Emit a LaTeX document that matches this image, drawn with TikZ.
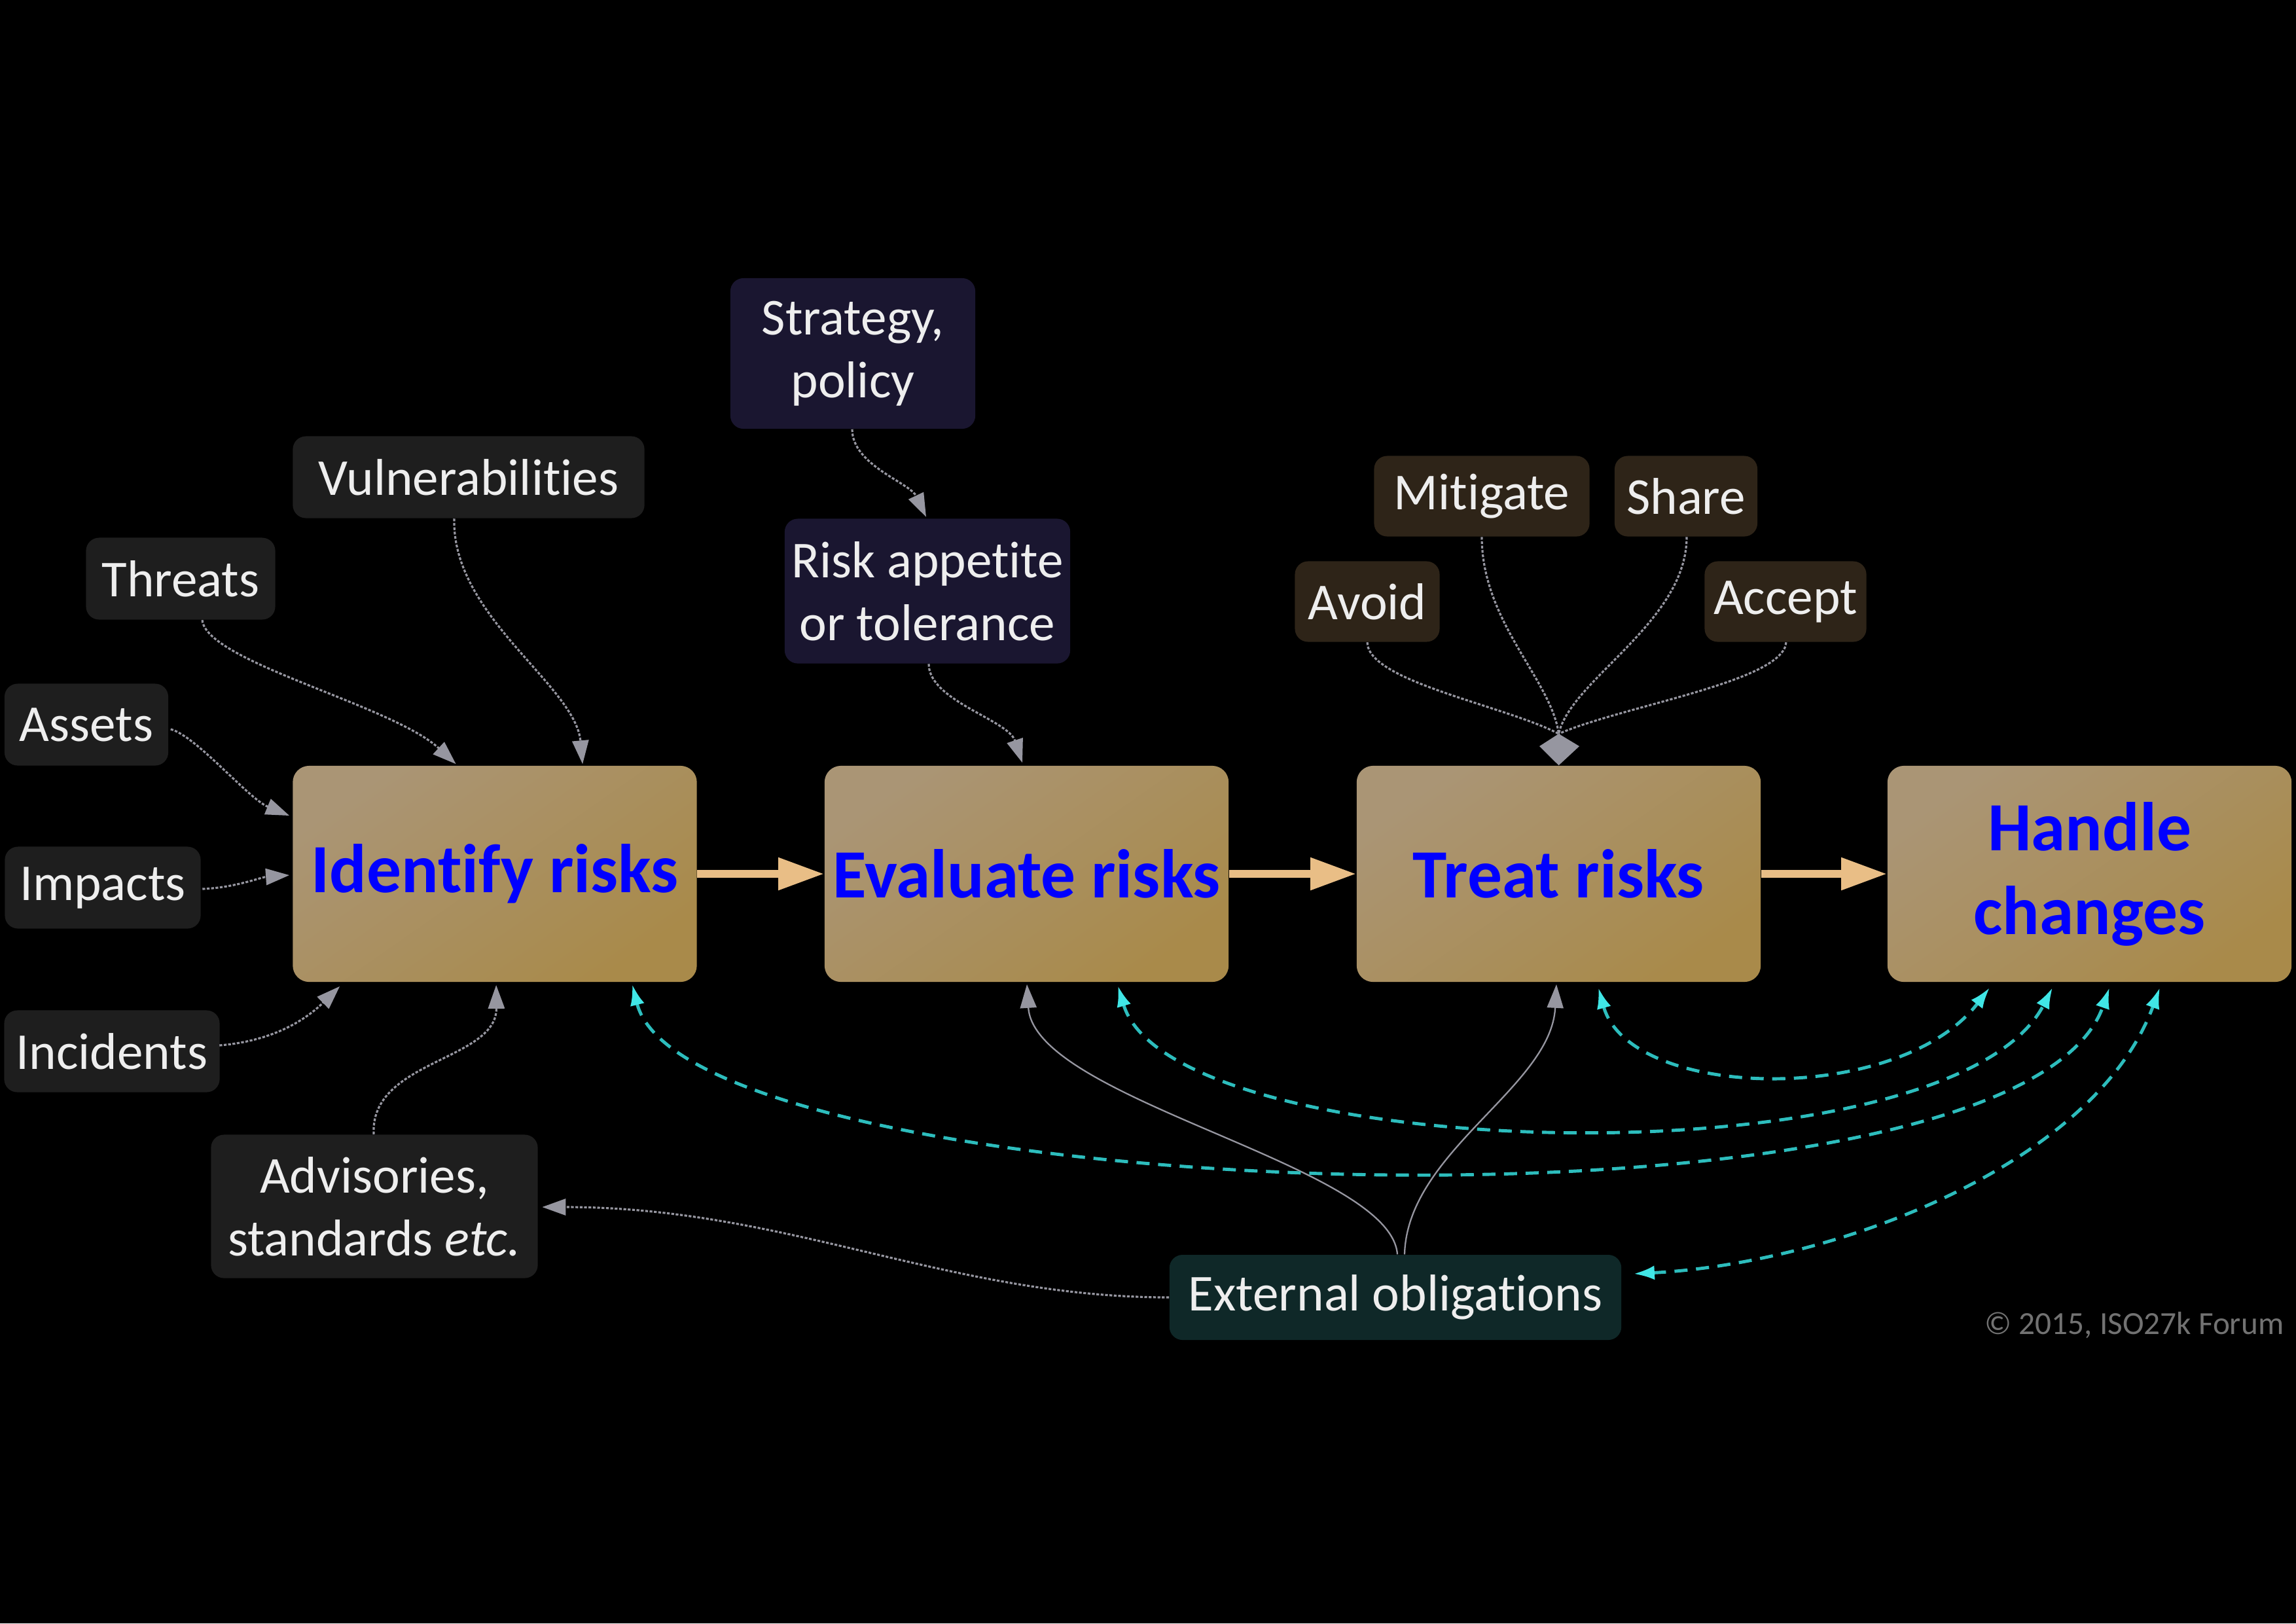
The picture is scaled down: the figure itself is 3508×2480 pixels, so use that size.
\documentclass[tikz,border=0pt]{standalone}
\usepackage{fontspec}
\setmainfont{Carlito}[Ligatures={NoCommon,NoContextual}]
\usetikzlibrary{arrows.meta,calc}

\definecolor{boxtop}{HTML}{AA9575}
\definecolor{boxbot}{HTML}{A98A4A}
\definecolor{flowcol}{HTML}{E9BE86}
\definecolor{cyanline}{HTML}{2DBDBD}
\definecolor{cyanhead}{HTML}{40E6E6}
\definecolor{linkgray}{HTML}{9696A0}
\definecolor{inputfill}{HTML}{1E1E1E}
\definecolor{policyfill}{HTML}{1A1630}
\definecolor{optionfill}{HTML}{2E2418}
\definecolor{extfill}{HTML}{0F2828}
\definecolor{cardtext}{HTML}{EEEEEE}
\definecolor{notegray}{HTML}{727272}

\newcommand\stagefont{\fontsize{30pt}{36.4pt}\selectfont\bfseries}
\newcommand\cardfont{\fontsize{22.5pt}{27.3pt}\selectfont}

\tikzset{
  stagebox/.style={rectangle, rounded corners=0.25cm, minimum width=6.17cm,
    minimum height=3.3cm, inner sep=0pt, top color=boxtop, bottom color=boxbot,
    shading angle=35, text=blue, font=\stagefont, align=center},
  cardbox/.style={rectangle, rounded corners=0.2cm, inner sep=0pt,
    text=cardtext, font=\cardfont, align=center},
  inputcard/.style={cardbox, fill=inputfill},
  policycard/.style={cardbox, fill=policyfill},
  optioncard/.style={cardbox, fill=optionfill},
  extcard/.style={cardbox, fill=extfill},
  link/.style={draw=linkgray, line width=0.9pt, dash pattern=on 1.2pt off 0.7pt,
    -{Triangle[length=0.36cm, width=0.25cm, color=linkgray]}},
  solidlink/.style={draw=linkgray, line width=0.65pt,
    -{Triangle[length=0.36cm, width=0.25cm, color=linkgray]}},
  plainlink/.style={draw=linkgray, line width=0.9pt, dash pattern=on 1.2pt off 0.7pt},
  flow/.style={draw=flowcol, line width=3.4pt,
    -{Triangle[length=0.7cm, width=0.47cm, color=flowcol]}},
  feedback/.style={draw=cyanline, line width=1.4pt, dash pattern=on 5.7pt off 3.7pt,
    {Latex[length=0.32cm, width=0.22cm, color=cyanhead]}-{Latex[length=0.32cm, width=0.22cm, color=cyanhead]}},
}

\begin{document}
\begin{tikzpicture}[x=0.01cm, y=-0.01cm]
  % canvas
  \fill[black] (0,0) rectangle (3508,2480);
  \useasboundingbox (0,0) rectangle (3508,2480);

  % process stages
  \node[stagebox] (identify) at (756,1335) {Identify risks};
  \node[stagebox] (evaluate) at (1568.5,1335) {Evaluate risks};
  \node[stagebox] (treat)    at (2381.5,1335) {Treat risks};
  \node[stagebox] (handle)   at (3192.5,1335) {Handle\\changes};

  % inputs to identification
  \node[inputcard, minimum width=5.37cm, minimum height=1.25cm] (vuln)      at (716,729)  {Vulnerabilities};
  \node[inputcard, minimum width=2.89cm, minimum height=1.25cm] (threats)   at (276,884)  {Threats};
  \node[inputcard, minimum width=2.50cm, minimum height=1.25cm] (assets)    at (132,1107) {Assets};
  \node[inputcard, minimum width=2.99cm, minimum height=1.25cm] (impacts)   at (157,1356) {Impacts};
  \node[inputcard, minimum width=3.29cm, minimum height=1.25cm] (incidents) at (171,1606) {Incidents};
  \node[inputcard, minimum width=4.99cm, minimum height=2.19cm] (advisories) at (572,1843) {Advisories,\\standards \textit{etc.}};

  % policy inputs to evaluation
  \node[policycard, minimum width=3.74cm, minimum height=2.30cm] (strategy) at (1303,540) {Strategy,\\policy};
  \node[policycard, minimum width=4.36cm, minimum height=2.21cm] (appetite) at (1417,903) {Risk appetite\\or tolerance};

  % treatment options
  \node[optioncard, minimum width=2.21cm, minimum height=1.23cm] (avoid)    at (2089,919) {Avoid};
  \node[optioncard, minimum width=3.29cm, minimum height=1.23cm] (mitigate) at (2264,758) {Mitigate};
  \node[optioncard, minimum width=2.18cm, minimum height=1.23cm] (share)    at (2576,758) {Share};
  \node[optioncard, minimum width=2.47cm, minimum height=1.23cm] (accept)   at (2728,919) {Accept};

  % external obligations
  \node[extcard, minimum width=6.90cm, minimum height=1.30cm] (external) at (2132,1982) {External obligations};

  % main flow
  \draw[flow] (identify.east) -- (evaluate.west);
  \draw[flow] (evaluate.east) -- (treat.west);
  \draw[flow] (treat.east) -- (handle.west);

  % inputs into "Identify risks"
  \draw[link] ($(threats.south)+(33,0)$) .. controls +(6,63.5) and +(-97.5,-90) .. ($(identify.north west)+(250,-2)$);
  \draw[link] ($(vuln.south)+(-22,0)$) .. controls +(-4,148.5) and +(-11,-120) .. ($(identify.north west)+(443.5,-2)$);
  \draw[link] ($(assets.east)+(3,7)$) .. controls +(40,11) and +(-63,-26) .. ($(identify.west)+(-4.5,-89)$);
  \draw[link] ($(impacts.east)+(2,2)$) .. controls +(50,-2) and +(-43,3) .. ($(identify.west)+(-4.5,2)$);
  \draw[link] ($(incidents.east)+(-1,-9)$) .. controls +(85,-7) and +(-50,49) .. ($(identify.south west)+(72.5,6)$);
  \draw[link] ($(advisories.north)+(-1,0)$) .. controls +(-6,-113.5) and +(1,116) .. ($(identify.south west)+(311.5,4)$);

  % policy chain into "Evaluate risks"
  \draw[link] ($(strategy.south)+(-1,0)$) .. controls +(0,55) and +(-25,-52.5) .. ($(appetite.north)+(-2,-2)$);
  \draw[link] ($(appetite.south)+(2,0)$) .. controls +(0,56.5) and +(-22,-66) .. ($(evaluate.north)+(-6.5,-4)$);

  % treatment options merge into "Treat risks"
  \coordinate (mergetop) at (2381.5,1121);
  \draw[plainlink] (avoid.south) .. controls +(1,60) and +(-81.5,-43) .. (mergetop);
  \draw[plainlink] (mitigate.south) .. controls +(0,130) and +(-11.5,-83) .. (mergetop);
  \draw[plainlink] ($(share.south)+(1,0)$) .. controls +(0,130) and +(18.5,-83) .. (mergetop);
  \draw[plainlink] ($(accept.south)+(1,0)$) .. controls +(-4,60) and +(98.5,-43) .. (mergetop);
  \fill[linkgray] (mergetop) -- ++(31.5,19) -- (treat.north) -- ($(mergetop)+(-29.5,19)$) -- cycle;

  % external obligations feed several stages
  \draw[link] (external.west) .. controls +(-337,0) and +(373.5,0) .. ($(advisories.east)+(6,1)$);
  \draw[solidlink] ($(external.north)+(3,0)$) .. controls +(-10,-137) and +(11,177) .. ($(evaluate.south)+(0.5,3)$);
  \draw[solidlink] ($(external.north)+(14,0)$) .. controls +(4,-157) and +(-8,157) .. ($(treat.south)+(-3.5,3)$);

  % change handling loops back to every stage
  \draw[feedback] ($(treat.south)+(60.5,8)$) .. controls +(48,172) and +(-140,182) .. ($(handle.south)+(-152.5,8)$);
  \draw[feedback] ($(evaluate.south)+(139.5,5)$) .. controls +(82,275) and +(-156,302) .. ($(handle.south)+(-56.5,8)$);
  \draw[feedback] ($(identify.south)+(210,3)$) .. controls +(84,337) and +(-143,412) .. ($(handle.south)+(30.5,8)$);
  \draw[feedback] ($(external.east)+(18,-36)$) .. controls +(305,-16) and +(-100,272) .. ($(handle.south)+(107.5,8)$);

  % credit line
  \node[anchor=east, text=notegray, font=\fontsize{14pt}{17pt}\selectfont, inner sep=0pt] (credit) at (3490,2025) {© 2015, ISO27k Forum};
\end{tikzpicture}
\end{document}
